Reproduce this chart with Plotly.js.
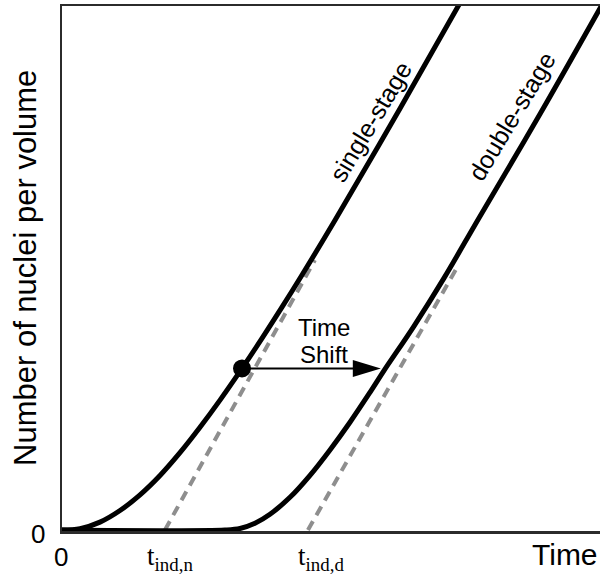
<!DOCTYPE html>
<html>
<head>
<meta charset="utf-8">
<script src="https://cdn.plot.ly/plotly-3.0.1.min.js"></script>
<style>
  html, body { margin: 0; padding: 0; background: #fff; }
  #chart { width: 600px; height: 577px; }
</style>
</head>
<body>
<div id="chart"></div>
<script>
// Nuclei per volume against time, arbitrary units (0-100 on both axes)
const singleTime   = [0, 3.35, 7.06, 10.78, 14.50, 18.22, 21.93, 25.65, 29.37, 33.46, 37.17, 40.89, 44.61, 50.74, 62.83, 75.2];
const singleNuclei = [0, 0.25, 1.50, 3.71, 6.69, 10.38, 14.72, 19.56, 24.74, 30.78, 36.50, 42.44, 48.57, 59.01, 80.30, 102.6];

const doubleTime   = [0, 30.30, 33.09, 35.87, 38.66, 42.38, 46.10, 49.81, 53.53, 57.25, 59.85, 65.43, 71.00, 77.32, 88.85, 101.5];
const doubleNuclei = [0, 0, 0.29, 1.28, 2.99, 6.23, 10.42, 15.26, 20.53, 26.23, 30.36, 38.84, 47.98, 59.10, 79.24, 102.1];

// Induction times: where the linear asymptotes cross zero
const tIndN = 19.14;
const tIndD = 45.72;
const singleAsymptoteTime   = [tIndN, 47.0];
const singleAsymptoteNuclei = [0, 51.4];
const doubleAsymptoteTime   = [tIndD, 73.79];
const doubleAsymptoteNuclei = [0, 50.67];

// Reference point on the single-stage curve and the time shift arrow
const markedIndex = 9;
const timeShift = 25.8;

const curveNames = ['single-stage', 'double-stage'];
const xTickLabels = ['0', 't<sub>ind,n</sub>', 't<sub>ind,d</sub>', 'Time'];
const yTickLabels = ['0'];
const yTitle = 'Number of nuclei per volume';
const shiftLabel = ['Time', 'Shift'];

const SANS = 'Liberation Sans, Arial, sans-serif';
const SERIF = 'Liberation Serif, Times New Roman, serif';

const dashStyle = { color: '#8e8e8e', width: 4, dash: '10px,7px' };
const curveStyle = { color: '#000', width: 5, shape: 'spline', smoothing: 1 };

const traces = [
  { x: singleAsymptoteTime, y: singleAsymptoteNuclei, mode: 'lines', line: dashStyle, hoverinfo: 'skip' },
  { x: doubleAsymptoteTime, y: doubleAsymptoteNuclei, mode: 'lines', line: dashStyle, hoverinfo: 'skip' },
  { x: singleTime, y: singleNuclei, mode: 'lines', line: curveStyle, name: curveNames[0] },
  { x: doubleTime, y: doubleNuclei, mode: 'lines', line: curveStyle, name: curveNames[1] },
  { x: [singleTime[markedIndex]], y: [singleNuclei[markedIndex]], mode: 'markers',
    marker: { color: '#000', size: 18 }, cliponaxis: false }
];

// Arrow from the marked point, shifted by timeShift
const x0 = singleTime[markedIndex];
const y0 = singleNuclei[markedIndex];
const tip = x0 + timeShift;
const headLen = 28 / 5.38;   // head length, in x units
const headHalf = 8.5 / 5.25; // half head height, in y units

const shapes = [
  { type: 'line', xref: 'x', yref: 'y', x0: x0, y0: y0, x1: tip - headLen + 0.5, y1: y0,
    line: { color: '#000', width: 2 } },
  { type: 'path', xref: 'x', yref: 'y',
    path: `M ${tip},${y0} L ${tip - headLen},${y0 + headHalf} L ${tip - headLen},${y0 - headHalf} Z`,
    fillcolor: '#000', line: { color: '#000', width: 0 } }
];

const annotations = [
  // curve labels, running along the lines
  { x: 57.25, y: 77.77, xref: 'x', yref: 'y', text: curveNames[0], showarrow: false,
    textangle: -59, font: { family: SANS, size: 25, color: '#000' } },
  { x: 83.59, y: 78.91, xref: 'x', yref: 'y', text: curveNames[1], showarrow: false,
    textangle: -59, font: { family: SANS, size: 25, color: '#000' } },
  // time shift label
  { x: 48.7, y: 38.57, xref: 'x', yref: 'y', text: shiftLabel[0], showarrow: false,
    font: { family: SANS, size: 24, color: '#000' } },
  { x: 48.7, y: 33.52, xref: 'x', yref: 'y', text: shiftLabel[1], showarrow: false,
    font: { family: SANS, size: 24, color: '#000' } },
  // x axis labels
  { x: 0, y: -0.0495, xref: 'x', yref: 'paper', xshift: -1, text: xTickLabels[0], showarrow: false,
    xanchor: 'center', yanchor: 'middle', font: { family: SANS, size: 26, color: '#000' } },
  { x: tIndN, y: -0.052, xref: 'x', yref: 'paper', xshift: 5, text: xTickLabels[1], showarrow: false,
    xanchor: 'center', yanchor: 'middle', font: { family: SERIF, size: 27, color: '#000' } },
  { x: tIndD, y: -0.052, xref: 'x', yref: 'paper', xshift: 13, text: xTickLabels[2], showarrow: false,
    xanchor: 'center', yanchor: 'middle', font: { family: SERIF, size: 27, color: '#000' } },
  { x: 1.0, y: -0.045, xref: 'paper', yref: 'paper', xanchor: 'right', text: xTickLabels[3], showarrow: false,
    yanchor: 'middle', font: { family: SANS, size: 30, color: '#000' } },
  // y axis label and title
  { x: -0.0437, y: 0, xref: 'paper', yref: 'y', yshift: -4, text: yTickLabels[0], showarrow: false,
    xanchor: 'center', yanchor: 'middle', font: { family: SANS, size: 26, color: '#000' } },
  { x: -0.0669, y: 0.501, xref: 'paper', yref: 'paper', text: yTitle, showarrow: false,
    xanchor: 'center', yanchor: 'middle', textangle: -90, font: { family: SANS, size: 31, color: '#000' } }
];

const axisCommon = {
  showgrid: false, zeroline: false, showticklabels: false, ticks: '',
  showline: true, linecolor: '#2b2b2b', linewidth: 2.5, fixedrange: true
};

const layout = {
  width: 600, height: 577,
  margin: { l: 62, r: 0, t: 6, b: 46, pad: 0 },
  paper_bgcolor: '#fff', plot_bgcolor: '#fff',
  showlegend: false,
  xaxis: Object.assign({}, axisCommon, { range: [0, 100], mirror: true }),
  yaxis: Object.assign({}, axisCommon, { range: [-0.19, 99.81], mirror: false }),
  shapes: shapes,
  annotations: annotations
};

Plotly.newPlot('chart', traces, layout, { staticPlot: true, displayModeBar: false });
</script>
</body>
</html>
